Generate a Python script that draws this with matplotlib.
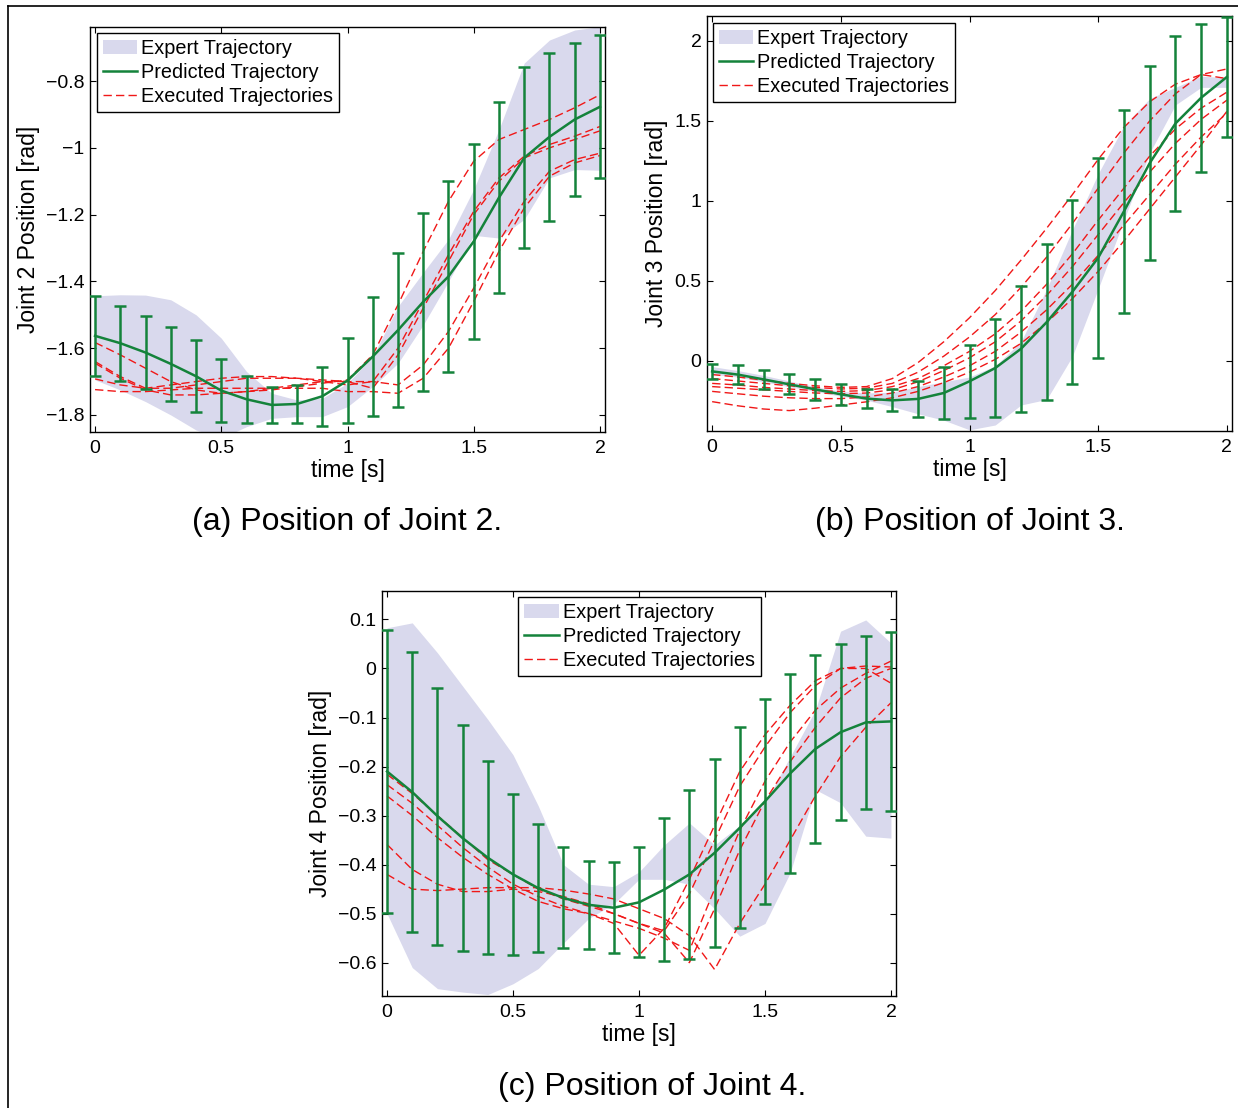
import matplotlib
matplotlib.use('Agg')
import matplotlib.pyplot as plt
from matplotlib.lines import Line2D

plt.rcParams['font.family'] = ['Liberation Sans', 'DejaVu Sans']

# ---------------- data ----------------
time_s = [0.0, 0.1, 0.2, 0.3, 0.4, 0.5, 0.6, 0.7, 0.8, 0.9, 1.0,
          1.1, 1.2, 1.3, 1.4, 1.5, 1.6, 1.7, 1.8, 1.9, 2.0]

# Joint 2
j2_pred_mean = [-1.563, -1.585, -1.613, -1.647, -1.684, -1.727, -1.753, -1.770, -1.767, -1.744, -1.697,
                -1.625, -1.546, -1.461, -1.385, -1.280, -1.149, -1.030, -0.967, -0.915, -0.877]
j2_pred_std = [0.119, 0.112, 0.108, 0.111, 0.108, 0.094, 0.071, 0.053, 0.056, 0.089, 0.128,
               0.179, 0.230, 0.266, 0.286, 0.292, 0.287, 0.271, 0.252, 0.230, 0.214]
j2_expert_upper = [-1.443, -1.440, -1.441, -1.455, -1.500, -1.570, -1.670, -1.735, -1.755, -1.750, -1.705,
                   -1.625, -1.475, -1.373, -1.274, -1.124, -0.945, -0.746, -0.677, -0.647, -0.637]
j2_expert_lower = [-1.695, -1.725, -1.760, -1.800, -1.845, -1.870, -1.835, -1.810, -1.805, -1.805, -1.775,
                   -1.715, -1.645, -1.530, -1.400, -1.262, -1.270, -1.214, -1.090, -1.065, -1.067]
j2_exec_1 = [-1.583, -1.620, -1.660, -1.700, -1.725, -1.735, -1.730, -1.725, -1.715, -1.705, -1.695,
             -1.620, -1.470, -1.310, -1.160, -1.040, -0.975, -0.945, -0.915, -0.880, -0.841]
j2_exec_2 = [-1.640, -1.685, -1.720, -1.720, -1.710, -1.700, -1.690, -1.690, -1.690, -1.700, -1.710,
             -1.700, -1.600, -1.460, -1.320, -1.190, -1.090, -1.025, -0.990, -0.965, -0.936]
j2_exec_3 = [-1.645, -1.690, -1.725, -1.740, -1.740, -1.735, -1.730, -1.720, -1.710, -1.700, -1.700,
             -1.720, -1.620, -1.480, -1.340, -1.200, -1.100, -1.030, -1.000, -0.975, -0.949]
j2_exec_4 = [-1.692, -1.710, -1.720, -1.710, -1.700, -1.690, -1.685, -1.685, -1.690, -1.695, -1.700,
             -1.700, -1.710, -1.650, -1.550, -1.420, -1.280, -1.160, -1.070, -1.035, -1.016]
j2_exec_5 = [-1.724, -1.730, -1.730, -1.725, -1.720, -1.720, -1.720, -1.720, -1.720, -1.720, -1.730,
             -1.730, -1.735, -1.690, -1.600, -1.460, -1.310, -1.180, -1.085, -1.045, -1.023]

# Joint 3
j3_pred_mean = [-0.065, -0.085, -0.115, -0.146, -0.177, -0.208, -0.235, -0.246, -0.237, -0.200, -0.127,
                -0.044, 0.076, 0.243, 0.433, 0.645, 0.935, 1.236, 1.484, 1.645, 1.775]
j3_pred_std = [0.046, 0.057, 0.060, 0.062, 0.064, 0.065, 0.060, 0.068, 0.110, 0.160, 0.230,
               0.304, 0.393, 0.488, 0.575, 0.625, 0.633, 0.607, 0.545, 0.463, 0.375]
j3_expert_upper = [-0.035, -0.060, -0.090, -0.125, -0.160, -0.190, -0.200, -0.195, -0.160, -0.130, -0.100,
                   -0.030, 0.120, 0.450, 0.820, 1.170, 1.470, 1.640, 1.710, 1.780, 1.770]
j3_expert_lower = [-0.083, -0.100, -0.130, -0.160, -0.190, -0.220, -0.245, -0.285, -0.330, -0.370, -0.430,
                   -0.400, -0.275, -0.240, 0.030, 0.450, 0.880, 1.300, 1.600, 1.710, 1.710]
j3_exec_1 = [-0.085, -0.100, -0.120, -0.140, -0.155, -0.165, -0.160, -0.110, -0.010, 0.120, 0.270,
             0.440, 0.630, 0.830, 1.040, 1.260, 1.460, 1.620, 1.730, 1.790, 1.825]
j3_exec_2 = [-0.110, -0.125, -0.140, -0.155, -0.165, -0.175, -0.170, -0.140, -0.070, 0.030, 0.150,
             0.290, 0.460, 0.650, 0.860, 1.080, 1.300, 1.500, 1.670, 1.790, 1.765]
j3_exec_3 = [-0.140, -0.150, -0.165, -0.175, -0.185, -0.190, -0.185, -0.160, -0.110, -0.030, 0.060,
             0.170, 0.310, 0.480, 0.670, 0.880, 1.080, 1.280, 1.450, 1.580, 1.680]
j3_exec_4 = [-0.160, -0.170, -0.180, -0.190, -0.200, -0.205, -0.200, -0.180, -0.130, -0.060, 0.020,
             0.120, 0.250, 0.410, 0.590, 0.790, 0.990, 1.180, 1.360, 1.510, 1.630]
j3_exec_5 = [-0.190, -0.205, -0.220, -0.230, -0.235, -0.235, -0.225, -0.200, -0.160, -0.100, -0.030,
             0.060, 0.180, 0.320, 0.480, 0.660, 0.850, 1.040, 1.230, 1.400, 1.550]
j3_exec_6 = [-0.254, -0.280, -0.300, -0.310, -0.295, -0.275, -0.255, -0.230, -0.190, -0.135, -0.070,
             0.010, 0.110, 0.240, 0.390, 0.560, 0.750, 0.950, 1.150, 1.350, 1.560]

# Joint 4
j4_pred_mean = [-0.210, -0.252, -0.301, -0.346, -0.386, -0.420, -0.448, -0.468, -0.482, -0.488, -0.477,
                -0.451, -0.420, -0.376, -0.325, -0.271, -0.214, -0.164, -0.130, -0.110, -0.108]
j4_pred_std = [0.288, 0.286, 0.262, 0.230, 0.197, 0.164, 0.130, 0.103, 0.090, 0.093, 0.112,
               0.146, 0.173, 0.192, 0.205, 0.209, 0.203, 0.192, 0.180, 0.176, 0.182]
j4_expert_upper = [0.083, 0.093, 0.032, -0.036, -0.104, -0.176, -0.280, -0.400, -0.440, -0.445, -0.415,
                   -0.360, -0.315, -0.360, -0.320, -0.275, -0.180, -0.085, 0.076, 0.099, 0.052]
j4_expert_lower = [-0.500, -0.610, -0.653, -0.660, -0.665, -0.643, -0.612, -0.560, -0.510, -0.480, -0.430,
                   -0.430, -0.440, -0.490, -0.546, -0.520, -0.417, -0.247, -0.274, -0.342, -0.346]
j4_exec_1 = [-0.216, -0.255, -0.300, -0.345, -0.390, -0.420, -0.450, -0.470, -0.485, -0.500, -0.520,
             -0.535, -0.460, -0.350, -0.240, -0.160, -0.090, -0.035, 0.000, 0.005, 0.003]
j4_exec_2 = [-0.237, -0.275, -0.320, -0.365, -0.405, -0.440, -0.465, -0.485, -0.500, -0.520, -0.585,
             -0.530, -0.430, -0.320, -0.210, -0.135, -0.075, -0.025, 0.000, 0.000, -0.030]
j4_exec_3 = [-0.260, -0.300, -0.345, -0.385, -0.420, -0.450, -0.475, -0.490, -0.500, -0.515, -0.530,
             -0.550, -0.575, -0.450, -0.330, -0.230, -0.150, -0.085, -0.040, -0.010, 0.015]
j4_exec_4 = [-0.359, -0.410, -0.440, -0.455, -0.455, -0.450, -0.455, -0.465, -0.480, -0.500, -0.520,
             -0.540, -0.600, -0.490, -0.370, -0.270, -0.190, -0.120, -0.060, -0.020, 0.000]
j4_exec_5 = [-0.420, -0.450, -0.453, -0.450, -0.447, -0.447, -0.447, -0.452, -0.460, -0.470, -0.490,
             -0.510, -0.545, -0.614, -0.520, -0.440, -0.350, -0.260, -0.180, -0.120, -0.070]

x_ticks = [0, 0.5, 1, 1.5, 2]
x_tick_labels = ['0', '0.5', '1', '1.5', '2']
j2_yticks = [-1.8, -1.6, -1.4, -1.2, -1.0, -0.8]
j2_yticklabels = ['\u22121.8', '\u22121.6', '\u22121.4', '\u22121.2', '\u22121', '\u22120.8']
j3_yticks = [0, 0.5, 1, 1.5, 2]
j3_yticklabels = ['0', '0.5', '1', '1.5', '2']
j4_yticks = [-0.6, -0.5, -0.4, -0.3, -0.2, -0.1, 0, 0.1]
j4_yticklabels = ['\u22120.6', '\u22120.5', '\u22120.4', '\u22120.3', '\u22120.2', '\u22120.1', '0', '0.1']

legend_labels = ['Expert Trajectory', 'Predicted Trajectory', 'Executed Trajectories']
captions = ['(a) Position of Joint 2.', '(b) Position of Joint 3.', '(c) Position of Joint 4.']

# ---------------- style ----------------
BAND = '#d9d9ed'
GREEN = '#14833b'
RED = '#f01818'
W, H = 1238, 1108
fig = plt.figure(figsize=(W / 100, H / 100), dpi=100)


def px_axes(left, top, right, bottom):
    return fig.add_axes([left / W, 1 - bottom / H, (right - left) / W, (bottom - top) / H])


def draw(ax, mean, std, up, lo, execs, ylim, yticks, yticklabels, ylabel, leg_anchor, ylabel_x):
    band = ax.fill_between(time_s, lo, up, color=BAND, lw=0, zorder=1)
    red_handle = None
    for e in execs:
        ln, = ax.plot(time_s, e, color=RED, lw=1.0, dashes=(6, 3), zorder=2)
        red_handle = ln
    ax.errorbar(time_s, mean, yerr=std, fmt='none', ecolor=GREEN, elinewidth=1.8,
                capsize=4.5, capthick=1.8, zorder=3)
    gl, = ax.plot(time_s, mean, color=GREEN, lw=1.8, zorder=4)
    ax.set_xlim(-0.02, 2.02)
    ax.set_ylim(*ylim)
    ax.set_xticks(x_ticks)
    ax.set_xticklabels(x_tick_labels)
    ax.set_yticks(yticks)
    ax.set_yticklabels(yticklabels)
    ax.tick_params(direction='in', top=True, right=True, length=4, width=0.8,
                   labelsize=14, colors='black')
    ax.tick_params(axis='x', pad=6)
    ax.tick_params(axis='y', pad=4)
    for s in ax.spines.values():
        s.set_linewidth(1.0)
        s.set_color('black')
    ax.set_xlabel('time [s]', fontsize=16.5, labelpad=1)
    ax.set_ylabel(ylabel, fontsize=16.5)
    ax.yaxis.set_label_coords(ylabel_x, 0.5)
    leg = ax.legend([band, gl, red_handle], legend_labels, loc='upper left',
                    bbox_to_anchor=leg_anchor, fontsize=14.3, frameon=True, fancybox=False,
                    framealpha=1, edgecolor='black', borderpad=0.3, labelspacing=0.24,
                    handlelength=1.75, handletextpad=0.2, borderaxespad=0)
    leg.get_frame().set_linewidth(1.0)
    leg.set_zorder(10)


ax_a = px_axes(90, 27, 605, 432)
draw(ax_a, j2_pred_mean, j2_pred_std, j2_expert_upper, j2_expert_lower,
     [j2_exec_1, j2_exec_2, j2_exec_3, j2_exec_4, j2_exec_5],
     (-1.851, -0.638), j2_yticks, j2_yticklabels, 'Joint 2 Position [rad]', (0.013, 0.985), -0.097)

ax_b = px_axes(707, 16, 1232, 431)
draw(ax_b, j3_pred_mean, j3_pred_std, j3_expert_upper, j3_expert_lower,
     [j3_exec_1, j3_exec_2, j3_exec_3, j3_exec_4, j3_exec_5, j3_exec_6],
     (-0.4375, 2.156), j3_yticks, j3_yticklabels, 'Joint 3 Position [rad]', (0.011, 0.983), -0.074)

ax_c = px_axes(382, 591, 896, 996)
draw(ax_c, j4_pred_mean, j4_pred_std, j4_expert_upper, j4_expert_lower,
     [j4_exec_1, j4_exec_2, j4_exec_3, j4_exec_4, j4_exec_5],
     (-0.668, 0.158), j4_yticks, j4_yticklabels, 'Joint 4 Position [rad]', (0.265, 0.985), -0.097)

fig.text(347 / W, 1 - 522 / H, captions[0], fontsize=23, ha='center', va='center')
fig.text(970 / W, 1 - 522 / H, captions[1], fontsize=23, ha='center', va='center')
fig.text(652 / W, 1 - 1087 / H, captions[2], fontsize=23, ha='center', va='center')

# outer frame lines
fig.add_artist(Line2D([8 / W, 8 / W], [0, 1 - 6 / H], color='black', lw=1.2, transform=fig.transFigure))
fig.add_artist(Line2D([8 / W, 1], [1 - 6 / H, 1 - 6 / H], color='black', lw=1.2, transform=fig.transFigure))

fig.savefig('out.png', dpi=100)
